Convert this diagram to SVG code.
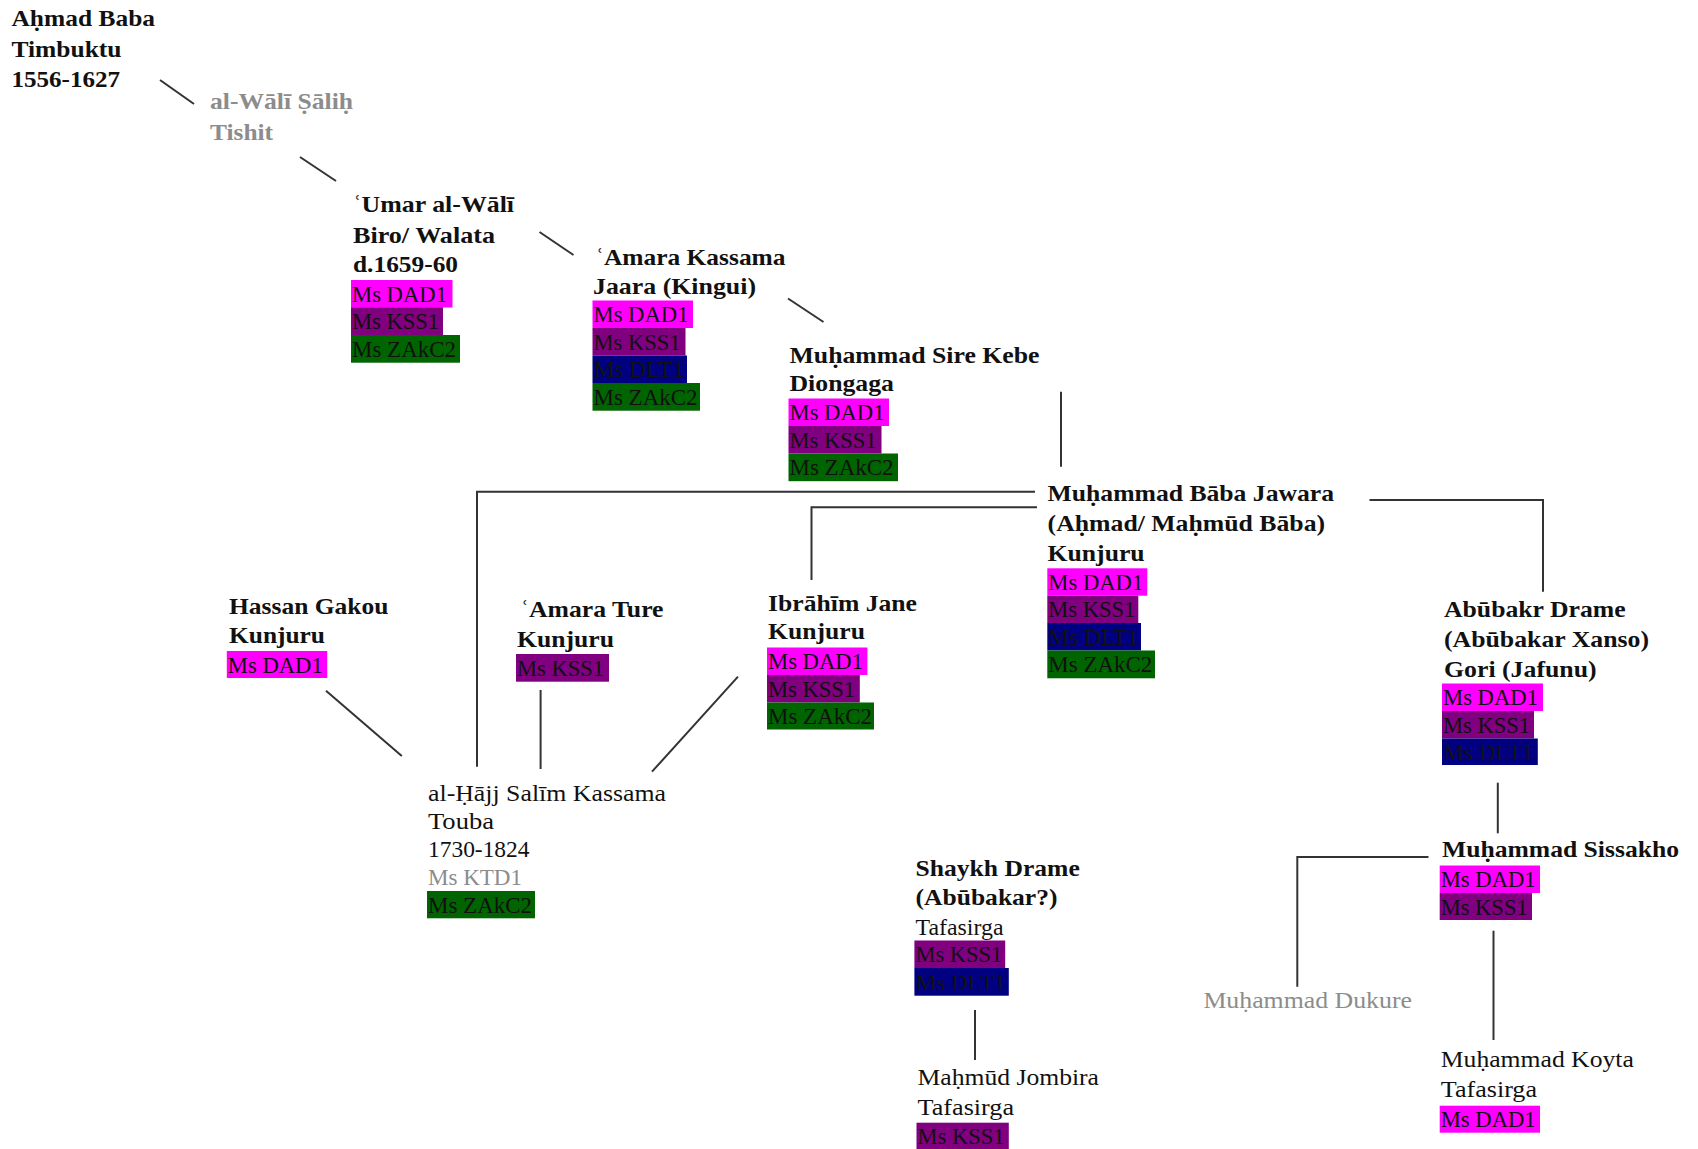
<svg xmlns="http://www.w3.org/2000/svg" width="1698" height="1149" viewBox="0 0 1698 1149">
<style>
  text { font-family: "Liberation Serif", "Times New Roman", serif; fill: #111; }
  .b { font-size: 24px; font-weight: bold; }
  .r { font-size: 24px; }
  .gr { fill: #8c8c8c; }
  .ms { font-size: 23px; }
  .dad { fill: #ff00ff; }
  .kss { fill: #800080; }
  .dlt { fill: #000080; }
  .zak { fill: #006400; }
  #connectors line, #connectors polyline { stroke: #333; stroke-width: 2; fill: none; }
</style>
<rect width="1698" height="1149" fill="#fff"/>

<g id="connectors">
  <line x1="160" y1="80" x2="194" y2="104"/>
  <line x1="300" y1="157" x2="336" y2="181"/>
  <line x1="539.5" y1="232" x2="573.5" y2="255"/>
  <line x1="788" y1="298.5" x2="823.5" y2="322"/>
  <line x1="1061" y1="391.7" x2="1061" y2="466.7"/>
  <polyline points="1035,491.7 477,491.7 477,766.7"/>
  <polyline points="1037,507.3 811.5,507.3 811.5,580"/>
  <polyline points="1369.5,500 1543,500 1543,591.7"/>
  <line x1="326" y1="690.7" x2="401.8" y2="756"/>
  <line x1="540.6" y1="690" x2="540.6" y2="769"/>
  <line x1="738" y1="676.7" x2="652" y2="771.7"/>
  <line x1="1497.8" y1="782.7" x2="1497.8" y2="833.3"/>
  <polyline points="1428.5,857 1297.3,857 1297.3,986.7"/>
  <line x1="1493.5" y1="930.7" x2="1493.5" y2="1040"/>
  <line x1="975" y1="1010" x2="975" y2="1060"/>
</g>

<g id="n-ahmad-baba">
  <text class="b" x="11.5" y="26" textLength="143.5" lengthAdjust="spacingAndGlyphs">Aḥmad Baba</text>
  <text class="b" x="11.5" y="56.7" textLength="110" lengthAdjust="spacingAndGlyphs">Timbuktu</text>
  <text class="b" x="11.5" y="86.7" textLength="108.5" lengthAdjust="spacingAndGlyphs">1556-1627</text>
</g>

<g id="n-wali-salih">
  <text class="b gr" x="210" y="109.3" textLength="143" lengthAdjust="spacingAndGlyphs">al-Wālī Ṣāliḥ</text>
  <text class="b gr" x="210" y="140" textLength="63" lengthAdjust="spacingAndGlyphs">Tishit</text>
</g>

<g id="n-umar-wali">
  <text class="b" x="353" y="212" textLength="161" lengthAdjust="spacingAndGlyphs">ʿUmar al-Wālī</text>
  <text class="b" x="353" y="243.3" textLength="142" lengthAdjust="spacingAndGlyphs">Biro/ Walata</text>
  <text class="b" x="353" y="271.7" textLength="105" lengthAdjust="spacingAndGlyphs">d.1659-60</text>
  <rect class="dad" x="351" y="280" width="101.5" height="27.5"/>
  <text class="ms" x="352" y="301.7" textLength="95" lengthAdjust="spacingAndGlyphs">Ms DAD1</text>
  <rect class="kss" x="351" y="307.3" width="92" height="27.7"/>
  <text class="ms" x="352" y="329" textLength="87" lengthAdjust="spacingAndGlyphs">Ms KSS1</text>
  <rect class="zak" x="351" y="335" width="109" height="27.7"/>
  <text class="ms" x="352" y="356.7" textLength="104" lengthAdjust="spacingAndGlyphs">Ms ZAkC2</text>
</g>

<g id="n-amara-kassama">
  <text class="b" x="595.5" y="265" textLength="190" lengthAdjust="spacingAndGlyphs">ʿAmara Kassama</text>
  <text class="b" x="593" y="294" textLength="163" lengthAdjust="spacingAndGlyphs">Jaara (Kingui)</text>
  <rect class="dad" x="592.5" y="300.5" width="100.5" height="27.5"/>
  <text class="ms" x="593.5" y="322.2" textLength="95" lengthAdjust="spacingAndGlyphs">Ms DAD1</text>
  <rect class="kss" x="592.5" y="328" width="93" height="27.5"/>
  <text class="ms" x="593.5" y="349.7" textLength="87" lengthAdjust="spacingAndGlyphs">Ms KSS1</text>
  <rect class="dlt" x="592.5" y="355.5" width="94.5" height="27.5"/>
  <text class="ms" x="593.5" y="377.2" textLength="90" lengthAdjust="spacingAndGlyphs">Ms DLT1</text>
  <rect class="zak" x="592.5" y="383" width="107.5" height="27.7"/>
  <text class="ms" x="593.5" y="404.7" textLength="104" lengthAdjust="spacingAndGlyphs">Ms ZAkC2</text>
</g>

<g id="n-sire-kebe">
  <text class="b" x="789.5" y="362.7" textLength="250" lengthAdjust="spacingAndGlyphs">Muḥammad Sire Kebe</text>
  <text class="b" x="789.5" y="390.7" textLength="104.5" lengthAdjust="spacingAndGlyphs">Diongaga</text>
  <rect class="dad" x="788.5" y="398.5" width="100.5" height="27.5"/>
  <text class="ms" x="789.5" y="420.2" textLength="95" lengthAdjust="spacingAndGlyphs">Ms DAD1</text>
  <rect class="kss" x="788.5" y="426" width="93" height="27.5"/>
  <text class="ms" x="789.5" y="447.7" textLength="87" lengthAdjust="spacingAndGlyphs">Ms KSS1</text>
  <rect class="zak" x="788.5" y="453.5" width="109.5" height="27.7"/>
  <text class="ms" x="789.5" y="475.2" textLength="104" lengthAdjust="spacingAndGlyphs">Ms ZAkC2</text>
</g>

<g id="n-baba-jawara">
  <text class="b" x="1047.6" y="500.7" textLength="286.5" lengthAdjust="spacingAndGlyphs">Muḥammad Bāba Jawara</text>
  <text class="b" x="1047.6" y="530.7" textLength="277.5" lengthAdjust="spacingAndGlyphs">(Aḥmad/ Maḥmūd Bāba)</text>
  <text class="b" x="1047.6" y="560.7" textLength="97" lengthAdjust="spacingAndGlyphs">Kunjuru</text>
  <rect class="dad" x="1047.3" y="568.3" width="100" height="27.4"/>
  <text class="ms" x="1048.3" y="590" textLength="95" lengthAdjust="spacingAndGlyphs">Ms DAD1</text>
  <rect class="kss" x="1047.3" y="595.7" width="91" height="27.3"/>
  <text class="ms" x="1048.3" y="617.4" textLength="87" lengthAdjust="spacingAndGlyphs">Ms KSS1</text>
  <rect class="dlt" x="1047.3" y="623" width="93.7" height="27.5"/>
  <text class="ms" x="1048.3" y="644.7" textLength="90" lengthAdjust="spacingAndGlyphs">Ms DLT1</text>
  <rect class="zak" x="1047.3" y="650.5" width="107.7" height="27.8"/>
  <text class="ms" x="1048.3" y="672.2" textLength="104" lengthAdjust="spacingAndGlyphs">Ms ZAkC2</text>
</g>

<g id="n-hassan-gakou">
  <text class="b" x="229" y="614" textLength="159.5" lengthAdjust="spacingAndGlyphs">Hassan Gakou</text>
  <text class="b" x="229" y="643.3" textLength="96" lengthAdjust="spacingAndGlyphs">Kunjuru</text>
  <rect class="dad" x="226.8" y="651" width="100.4" height="27"/>
  <text class="ms" x="227.8" y="672.7" textLength="95" lengthAdjust="spacingAndGlyphs">Ms DAD1</text>
</g>

<g id="n-amara-ture">
  <text class="b" x="520.5" y="617.3" textLength="143" lengthAdjust="spacingAndGlyphs">ʿAmara Ture</text>
  <text class="b" x="517" y="646.7" textLength="97" lengthAdjust="spacingAndGlyphs">Kunjuru</text>
  <rect class="kss" x="516" y="654" width="93" height="27.7"/>
  <text class="ms" x="517" y="675.7" textLength="87" lengthAdjust="spacingAndGlyphs">Ms KSS1</text>
</g>

<g id="n-ibrahim-jane">
  <text class="b" x="768" y="610.5" textLength="149" lengthAdjust="spacingAndGlyphs">Ibrāhīm Jane</text>
  <text class="b" x="768" y="639.3" textLength="97" lengthAdjust="spacingAndGlyphs">Kunjuru</text>
  <rect class="dad" x="767" y="647.5" width="100.4" height="27.5"/>
  <text class="ms" x="768" y="669.2" textLength="95" lengthAdjust="spacingAndGlyphs">Ms DAD1</text>
  <rect class="kss" x="767" y="675" width="92.8" height="27.5"/>
  <text class="ms" x="768" y="696.7" textLength="87" lengthAdjust="spacingAndGlyphs">Ms KSS1</text>
  <rect class="zak" x="767" y="702.5" width="107" height="27"/>
  <text class="ms" x="768" y="724.2" textLength="104" lengthAdjust="spacingAndGlyphs">Ms ZAkC2</text>
</g>

<g id="n-salim-kassama">
  <text class="r" x="428" y="800.7" textLength="238" lengthAdjust="spacingAndGlyphs">al-Ḥājj Salīm Kassama</text>
  <text class="r" x="428" y="829.3" textLength="66" lengthAdjust="spacingAndGlyphs">Touba</text>
  <text class="r" x="428" y="857.3" textLength="101.5" lengthAdjust="spacingAndGlyphs">1730-1824</text>
  <text class="ms gr" x="428" y="885" textLength="94" lengthAdjust="spacingAndGlyphs">Ms KTD1</text>
  <rect class="zak" x="427" y="891" width="108" height="27.3"/>
  <text class="ms" x="428" y="912.7" textLength="104" lengthAdjust="spacingAndGlyphs">Ms ZAkC2</text>
</g>

<g id="n-abubakr-drame">
  <text class="b" x="1444" y="617.3" textLength="181.6" lengthAdjust="spacingAndGlyphs">Abūbakr Drame</text>
  <text class="b" x="1444" y="646.7" textLength="205" lengthAdjust="spacingAndGlyphs">(Abūbakar Xanso)</text>
  <text class="b" x="1444" y="677.3" textLength="152.6" lengthAdjust="spacingAndGlyphs">Gori (Jafunu)</text>
  <rect class="dad" x="1442" y="683.5" width="101" height="27.5"/>
  <text class="ms" x="1443" y="705.2" textLength="95" lengthAdjust="spacingAndGlyphs">Ms DAD1</text>
  <rect class="kss" x="1442" y="711" width="92" height="27.5"/>
  <text class="ms" x="1443" y="732.7" textLength="87" lengthAdjust="spacingAndGlyphs">Ms KSS1</text>
  <rect class="dlt" x="1442" y="738.5" width="95.8" height="26.5"/>
  <text class="ms" x="1443" y="760.2" textLength="90" lengthAdjust="spacingAndGlyphs">Ms DLT1</text>
</g>

<g id="n-sissakho">
  <text class="b" x="1442" y="857" textLength="237" lengthAdjust="spacingAndGlyphs">Muḥammad Sissakho</text>
  <rect class="dad" x="1439.7" y="865.5" width="100.3" height="27.5"/>
  <text class="ms" x="1440.7" y="887.2" textLength="95" lengthAdjust="spacingAndGlyphs">Ms DAD1</text>
  <rect class="kss" x="1439.7" y="893" width="92.3" height="27"/>
  <text class="ms" x="1440.7" y="914.7" textLength="87" lengthAdjust="spacingAndGlyphs">Ms KSS1</text>
</g>

<g id="n-shaykh-drame">
  <text class="b" x="915.5" y="876" textLength="164.3" lengthAdjust="spacingAndGlyphs">Shaykh Drame</text>
  <text class="b" x="915.5" y="905" textLength="142" lengthAdjust="spacingAndGlyphs">(Abūbakar?)</text>
  <text class="r" x="915.5" y="935" textLength="88" lengthAdjust="spacingAndGlyphs">Tafasirga</text>
  <rect class="kss" x="914.4" y="940.5" width="90.8" height="27.5"/>
  <text class="ms" x="915.4" y="962.2" textLength="87" lengthAdjust="spacingAndGlyphs">Ms KSS1</text>
  <rect class="dlt" x="914.4" y="968" width="94.4" height="27.7"/>
  <text class="ms" x="915.4" y="989.7" textLength="90" lengthAdjust="spacingAndGlyphs">Ms DLT1</text>
</g>

<g id="n-mahmud-jombira">
  <text class="r" x="917.6" y="1085" textLength="181.4" lengthAdjust="spacingAndGlyphs">Maḥmūd Jombira</text>
  <text class="r" x="917.6" y="1115" textLength="96.4" lengthAdjust="spacingAndGlyphs">Tafasirga</text>
  <rect class="kss" x="916.5" y="1122.7" width="92.3" height="27.5"/>
  <text class="ms" x="917.5" y="1144.4" textLength="87" lengthAdjust="spacingAndGlyphs">Ms KSS1</text>
</g>

<g id="n-dukure">
  <text class="r gr" x="1203.4" y="1008.3" textLength="208.6" lengthAdjust="spacingAndGlyphs">Muḥammad Dukure</text>
</g>

<g id="n-koyta">
  <text class="r" x="1440.8" y="1066.7" textLength="193" lengthAdjust="spacingAndGlyphs">Muḥammad Koyta</text>
  <text class="r" x="1440.8" y="1096.7" textLength="96.2" lengthAdjust="spacingAndGlyphs">Tafasirga</text>
  <rect class="dad" x="1439.7" y="1105.7" width="100.3" height="27"/>
  <text class="ms" x="1440.7" y="1127.4" textLength="95" lengthAdjust="spacingAndGlyphs">Ms DAD1</text>
</g>
</svg>
